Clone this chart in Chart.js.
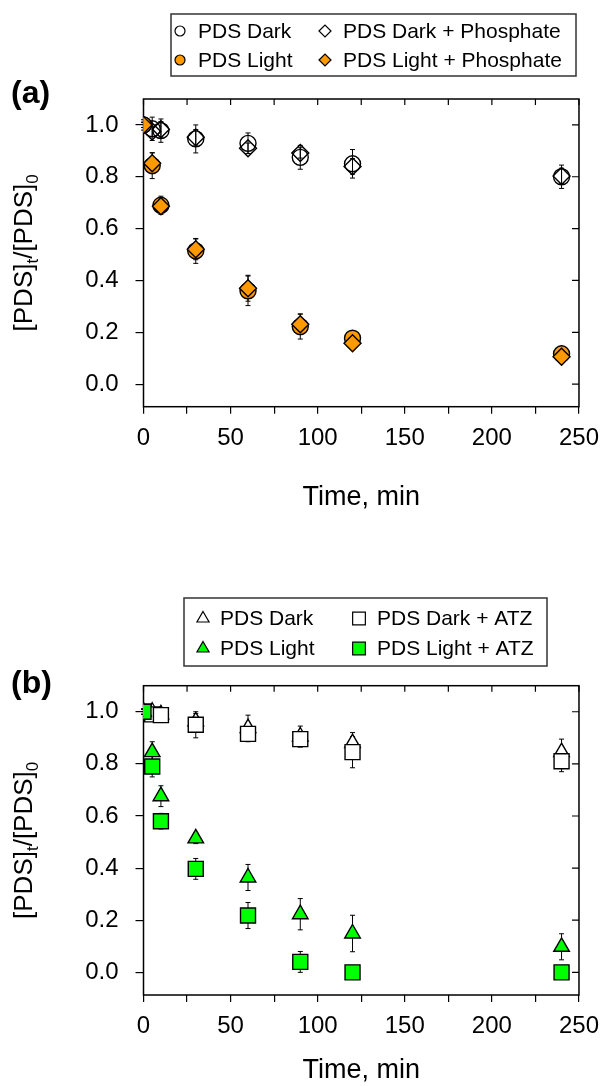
<!DOCTYPE html>
<html>
<head>
<meta charset="utf-8">
<script src="https://cdn.jsdelivr.net/npm/chart.js@4.4.0/dist/chart.umd.min.js"></script>
<style>
  html, body { margin: 0; padding: 0; background: #fff; }
  #wrap { position: relative; width: 609px; height: 1086px; }
  .panel { position: absolute; left: 0; width: 609px; }
  #panelA { top: 0; height: 545px; }
  #panelB { top: 545px; height: 541px; }
</style>
</head>
<body>
<div id="wrap">
  <div class="panel" id="panelA"><canvas id="chartA"></canvas></div>
  <div class="panel" id="panelB"><canvas id="chartB"></canvas></div>
</div>
<script>
// sampling times (min)
const timeMin = [0, 5, 10, 30, 60, 90, 120, 240];

// panel (a) - phosphate
const darkA = [1.00, 0.985, 0.978, 0.946, 0.929, 0.875, 0.850, 0.800];
const darkAErr = [0.02, 0.045, 0.045, 0.054, 0.04, 0.046, 0.055, 0.045];
const darkPhos = [1.00, 0.975, 0.983, 0.952, 0.910, 0.892, 0.840, 0.803];
const darkPhosErr = [0.01, 0.02, 0.03, 0.03, 0.02, 0.02, 0.03, 0.03];
const lightA = [1.00, 0.843, 0.690, 0.514, 0.360, 0.222, 0.177, 0.117];
const lightAErr = [0.01, 0.05, 0.035, 0.048, 0.057, 0.048, 0.015, 0.01];
const lightPhos = [1.00, 0.852, 0.686, 0.520, 0.370, 0.231, 0.158, 0.106];
const lightPhosErr = [0.01, 0.04, 0.02, 0.04, 0.05, 0.04, 0.015, 0.01];

// panel (b) - ATZ
const darkB = [1.00, 1.00, 0.99, 0.963, 0.937, 0.905, 0.880, 0.845];
const darkBErr = [0.01, 0.02, 0.02, 0.03, 0.05, 0.04, 0.04, 0.05];
const darkAtz = [1.00, 0.99, 0.987, 0.950, 0.915, 0.895, 0.845, 0.810];
const darkAtzErr = [0.01, 0.02, 0.02, 0.05, 0.03, 0.03, 0.06, 0.04];
const lightB = [1.00, 0.845, 0.676, 0.514, 0.364, 0.223, 0.149, 0.098];
const lightBErr = [0.01, 0.04, 0.04, 0.02, 0.05, 0.06, 0.07, 0.05];
const lightAtz = [1.00, 0.79, 0.58, 0.397, 0.218, 0.04, 0.0, 0.0];
const lightAtzErr = [0.01, 0.04, 0.03, 0.04, 0.05, 0.04, 0.01, 0.01];

const FONT = "'Liberation Sans', Arial, Helvetica, sans-serif";
Chart.defaults.font.family = FONT;
Chart.defaults.color = '#000';

const pts = vals => timeMin.map((t, i) => ({ x: t, y: vals[i] }));

function markerPoint(ctx, style, r, x, y) {
  if (Chart.helpers && Chart.helpers.drawPoint) {
    Chart.helpers.drawPoint(ctx, { pointStyle: style, radius: r, rotation: 0, borderWidth: ctx.lineWidth }, x, y);
    return;
  }
  ctx.beginPath();
  if (style === 'circle') ctx.arc(x, y, r, 0, Math.PI * 2);
  else if (style === 'rectRot') { ctx.moveTo(x - r, y); ctx.lineTo(x, y - r); ctx.lineTo(x + r, y); ctx.lineTo(x, y + r); ctx.closePath(); }
  else if (style === 'triangle') { ctx.moveTo(x, y - r); ctx.lineTo(x + r * 0.866, y + r / 2); ctx.lineTo(x - r * 0.866, y + r / 2); ctx.closePath(); }
  else { const s = r * Math.SQRT1_2; ctx.rect(x - s, y - s, 2 * s, 2 * s); }
  ctx.fill(); ctx.stroke();
}

// box frame with inward ticks on top and right
const frame = {
  id: 'frame',
  beforeDatasetsDraw(chart) {
    const { ctx, chartArea: a, scales: { x, y } } = chart;
    ctx.save();
    ctx.strokeStyle = '#000';
    ctx.lineWidth = 1.5;
    ctx.strokeRect(a.left, a.top, a.right - a.left, a.bottom - a.top);
    ctx.lineWidth = 1.2;
    ctx.beginPath();
    x.ticks.forEach(t => {
      const px = x.getPixelForValue(t.value);
      ctx.moveTo(px, a.top); ctx.lineTo(px, a.top + 6);
    });
    y.ticks.forEach(t => {
      const py = y.getPixelForValue(t.value);
      ctx.moveTo(a.right, py); ctx.lineTo(a.right - 7, py);
    });
    ctx.stroke();
    ctx.restore();
  }
};

const errorBars = {
  id: 'errorBars',
  beforeDatasetsDraw(chart) {
    const { ctx, scales: { x, y } } = chart;
    ctx.save();
    ctx.strokeStyle = '#000';
    ctx.lineWidth = 1;
    chart.data.datasets.forEach(ds => {
      if (!ds.errors) return;
      ds.data.forEach((p, j) => {
        const e = ds.errors[j];
        const px = x.getPixelForValue(p.x);
        const top = y.getPixelForValue(p.y + e);
        const bot = y.getPixelForValue(p.y - e);
        ctx.beginPath();
        ctx.moveTo(px, top); ctx.lineTo(px, bot);
        ctx.moveTo(px - 2.5, top); ctx.lineTo(px + 2.5, top);
        ctx.moveTo(px - 2.5, bot); ctx.lineTo(px + 2.5, bot);
        ctx.stroke();
      });
    });
    ctx.restore();
  }
};

// panel letter, y title with subscripts, boxed 2x2 legend
const decor = {
  id: 'decor',
  afterDraw(chart, args, o) {
    const { ctx, chartArea: a } = chart;
    ctx.save();
    ctx.fillStyle = '#000';
    ctx.font = `bold 32px ${FONT}`;
    ctx.textAlign = 'left';
    ctx.textBaseline = 'middle';
    ctx.fillText(o.letter, o.letterX, o.letterY);

    ctx.save();
    ctx.translate(o.titleX, (a.top + a.bottom) / 2);
    ctx.rotate(-Math.PI / 2);
    const parts = [['[PDS]', false], ['t', true], ['/[PDS]', false], ['0', true]];
    const big = `26px ${FONT}`, small = `17px ${FONT}`;
    let total = 0;
    parts.forEach(([s, sub]) => { ctx.font = sub ? small : big; total += ctx.measureText(s).width; });
    let cx = -total / 2;
    parts.forEach(([s, sub]) => {
      ctx.font = sub ? small : big;
      ctx.fillText(s, cx, sub ? 8 : 0);
      cx += ctx.measureText(s).width;
    });
    ctx.restore();

    const L = o.legend;
    ctx.strokeStyle = '#333';
    ctx.lineWidth = 1.5;
    ctx.strokeRect(L.box[0], L.box[1], L.box[2] - L.box[0], L.box[3] - L.box[1]);
    ctx.font = `21px ${FONT}`;
    chart.data.datasets.forEach((ds, i) => {
      const col = i % 2, row = Math.floor(i / 2);
      const my = L.rows[row];
      ctx.fillStyle = ds.legendFill;
      ctx.strokeStyle = '#000';
      ctx.lineWidth = 1.2;
      markerPoint(ctx, ds.pointStyle, ds.legendRadius, L.markX[col], my);
      ctx.fillStyle = '#000';
      ctx.fillText(ds.label, L.textX[col], my + 1);
    });
    ctx.restore();
  }
};

function makeChart(id, datasets, cfg) {
  return new Chart(document.getElementById(id), {
    type: 'scatter',
    data: { datasets },
    plugins: [frame, errorBars, decor],
    options: {
      responsive: true,
      maintainAspectRatio: false,
      animation: false,
      events: [],
      layout: { padding: { top: cfg.top, right: 20, left: 0, bottom: 0 } },
      scales: {
        x: {
          type: 'linear', min: 0, max: 250,
          ticks: {
            stepSize: 25, autoSkip: false, maxRotation: 0, padding: 10,
            font: { size: 24 }, color: '#000',
            callback: v => (v % 50 === 0 ? String(v) : '')
          },
          grid: { drawOnChartArea: false, drawTicks: true, tickLength: 7, color: '#000', lineWidth: 1.2 },
          border: { display: false },
          title: { display: true, text: 'Time, min', font: { size: 27, lineHeight: 1 }, color: '#000', padding: { top: 0, bottom: cfg.titlePad } },
          afterFit: s => { s.height = cfg.xHeight; }
        },
        y: {
          type: 'linear', min: -0.087, max: 1.1,
          ticks: {
            stepSize: 0.1, includeBounds: false, padding: 17,
            font: { size: 24 }, color: '#000',
            callback: v => {
              const k = Math.round(v * 10);
              return (k % 2 === 0 && k >= 0 && k <= 10) ? (k / 10).toFixed(1) : '';
            }
          },
          grid: { drawOnChartArea: false, drawTicks: true, tickLength: 8, color: '#000', lineWidth: 1.2 },
          border: { display: false },
          afterFit: s => { s.width = 143.5; }
        }
      },
      plugins: {
        legend: { display: false },
        tooltip: { enabled: false },
        decor: cfg.decor
      }
    }
  });
}

const open = 'rgba(255,255,255,0)';
const orange = '#ff9900';
const green = '#00ff00';

function ds(label, vals, errs, style, r, fill, legendFill, legendRadius, order) {
  return {
    label, data: pts(vals), errors: errs,
    pointStyle: style, pointRadius: r,
    pointBackgroundColor: fill, pointBorderColor: '#000', pointBorderWidth: 1.4,
    showLine: false, legendFill, legendRadius, order
  };
}

makeChart('chartA', [
  ds('PDS Dark', darkA, darkAErr, 'circle', 8, open, '#fff', 5, 4),
  ds('PDS Dark + Phosphate', darkPhos, darkPhosErr, 'rectRot', 8.5, open, '#fff', 6, 3),
  ds('PDS Light', lightA, lightAErr, 'circle', 8, orange, orange, 5, 2),
  ds('PDS Light + Phosphate', lightPhos, lightPhosErr, 'rectRot', 8.5, orange, orange, 6, 1)
], {
  top: 99, xHeight: 138.3, titlePad: 34,
  decor: {
    letter: '(a)', letterX: 11, letterY: 94, titleX: 25,
    legend: { box: [171, 14, 576, 76], rows: [31, 60], markX: [180, 325], textX: [198, 343] }
  }
});

makeChart('chartB', [
  ds('PDS Dark', darkB, darkBErr, 'triangle', 9, '#fff', '#fff', 7, 4),
  ds('PDS Dark + ATZ', darkAtz, darkAtzErr, 'rect', 10.6, '#fff', '#fff', 9, 3),
  ds('PDS Light', lightB, lightBErr, 'triangle', 9, green, green, 7, 2),
  ds('PDS Light + ATZ', lightAtz, lightAtzErr, 'rect', 10.6, green, green, 9, 1)
], {
  top: 140.7, xHeight: 91, titlePad: 1.5,
  decor: {
    letter: '(b)', letterX: 11, letterY: 139, titleX: 25,
    legend: { box: [184, 53, 547, 121], rows: [73.5, 103.5], markX: [203, 359], textX: [220, 377] }
  }
});
</script>
</body>
</html>
